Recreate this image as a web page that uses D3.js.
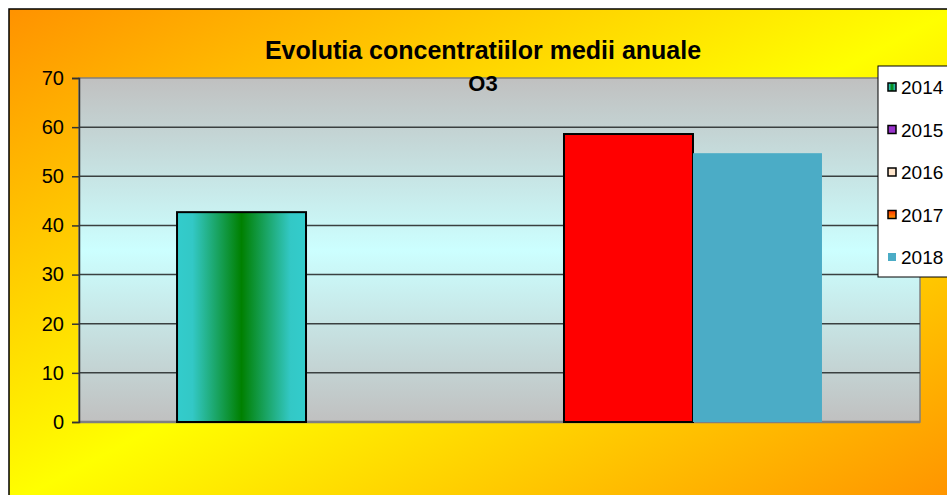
<!DOCTYPE html>
<html>
<head>
<meta charset="utf-8">
<script src="https://cdn.jsdelivr.net/npm/d3@7"></script>
<style>
  body { margin: 0; background: #fff; }
  text { font-family: "Liberation Sans", Arial, sans-serif; }
</style>
</head>
<body>
<svg id="chart"></svg>
<script>
// data
var categories = ["O3"];
var years = ["2014", "2015", "2016", "2017", "2018"];
var values = [42.7, null, null, 58.6, 54.7];
var yTicks = [0, 10, 20, 30, 40, 50, 60, 70];

var width = 947, height = 495;
var plot = {left: 79, right: 920, top: 78, bottom: 422};

var svg = d3.select("#chart")
      .attr("width", width)
      .attr("height", height);

var defs = svg.append("defs");

var bg = defs.append("linearGradient")
      .attr("id", "bg")
      .attr("x1", 0).attr("y1", 0).attr("x2", 1).attr("y2", 1);
bg.append("stop").attr("offset", 0).attr("stop-color", "#ff9200");
bg.append("stop").attr("offset", 0.5).attr("stop-color", "#ffff00");
bg.append("stop").attr("offset", 1).attr("stop-color", "#ff9200");

var pg = defs.append("linearGradient")
      .attr("id", "plotbg")
      .attr("x1", 0).attr("y1", 0).attr("x2", 0).attr("y2", 1);
pg.append("stop").attr("offset", 0).attr("stop-color", "#c0c0c0");
pg.append("stop").attr("offset", 0.5).attr("stop-color", "#ccffff");
pg.append("stop").attr("offset", 1).attr("stop-color", "#c0c0c0");

var gg = defs.append("linearGradient")
      .attr("id", "green")
      .attr("x1", 0).attr("y1", 0).attr("x2", 1).attr("y2", 0);
gg.append("stop").attr("offset", 0).attr("stop-color", "#33cccc");
gg.append("stop").attr("offset", 0.12).attr("stop-color", "#33c8c6");
gg.append("stop").attr("offset", 0.5).attr("stop-color", "#008000");
gg.append("stop").attr("offset", 0.88).attr("stop-color", "#33c8c6");
gg.append("stop").attr("offset", 1).attr("stop-color", "#33cccc");

var og = defs.append("linearGradient")
      .attr("id", "orange")
      .attr("x1", 0).attr("y1", 0).attr("x2", 0).attr("y2", 1);
og.append("stop").attr("offset", 0).attr("stop-color", "#ff3300");
og.append("stop").attr("offset", 1).attr("stop-color", "#ff9900");

var fills = ["url(#green)", "#9933cc", "#ffe6cc", "url(#orange)", "#4bacc6"];
var strokes = ["#000", "#000", "#000", "#000", "none"];
var barFills = ["url(#green)", "#9933cc", "#ffe6cc", "#ff0000", "#4bacc6"];

// outer background
svg.append("rect")
      .attr("x", 9).attr("y", 9)
      .attr("width", width).attr("height", height)
      .attr("fill", "url(#bg)")
      .attr("stroke", "#000")
      .attr("stroke-width", 1.5);

var x0 = d3.scaleBand()
      .domain(categories)
      .range([plot.left, plot.right]);

var x1 = d3.scaleBand()
      .domain(years)
      .range([0, x0.bandwidth()])
      .paddingOuter(0.76);

var y = d3.scaleLinear()
      .domain([0, 70])
      .range([plot.bottom, plot.top]);

// plot area
svg.append("rect")
      .attr("x", plot.left).attr("y", plot.top)
      .attr("width", plot.right - plot.left)
      .attr("height", plot.bottom - plot.top)
      .attr("fill", "url(#plotbg)")
      .attr("stroke", "#808080")
      .attr("stroke-width", 1.5);

svg.append("g")
      .selectAll("line")
      .data(yTicks.filter(function(d) { return d > 0 && d < 70; }))
      .enter()
      .append("line")
      .attr("x1", plot.left).attr("x2", plot.right)
      .attr("y1", function(d) { return y(d); })
      .attr("y2", function(d) { return y(d); })
      .attr("stroke", "#3a4040")
      .attr("stroke-width", 1.5);

svg.append("line")
      .attr("x1", plot.left).attr("x2", plot.right)
      .attr("y1", plot.bottom).attr("y2", plot.bottom)
      .attr("stroke", "#808080")
      .attr("stroke-width", 2.5);

// bars
svg.append("g")
      .selectAll("rect")
      .data(values.map(function(v, i) { return {year: years[i], value: v, i: i}; })
        .filter(function(d) { return d.value != null; }))
      .enter()
      .append("rect")
      .attr("x", function(d) { return x0(categories[0]) + x1(d.year); })
      .attr("y", function(d) { return y(d.value); })
      .attr("width", x1.bandwidth())
      .attr("height", function(d) { return y(0) - y(d.value); })
      .attr("fill", function(d) { return barFills[d.i]; })
      .attr("stroke", function(d) { return strokes[d.i]; })
      .attr("stroke-width", 2);

// y axis
var yAxis = d3.axisLeft(y)
      .tickValues(yTicks)
      .tickSize(7)
      .tickPadding(8);

var ax = svg.append("g")
      .attr("transform", "translate(" + plot.left + ",0)")
      .call(yAxis);
ax.select(".domain").attr("stroke", "#333").attr("stroke-width", 1.5);
ax.selectAll(".tick line").attr("stroke", "#333").attr("stroke-width", 1.5);
ax.selectAll(".tick text")
      .attr("font-size", "20px")
      .attr("font-family", "'Liberation Sans', Arial, sans-serif")
      .attr("fill", "#000");

// title
svg.append("text")
      .attr("x", 483).attr("y", 59)
      .attr("text-anchor", "middle")
      .attr("font-size", "25px")
      .attr("font-weight", "bold")
      .text("Evolutia concentratiilor medii anuale");
svg.append("text")
      .attr("x", 483).attr("y", 91)
      .attr("text-anchor", "middle")
      .attr("font-size", "22px")
      .attr("font-weight", "bold")
      .text("O3");

// legend
var legend = svg.append("g");
legend.append("rect")
      .attr("x", 878).attr("y", 66)
      .attr("width", 90).attr("height", 211)
      .attr("fill", "#fff")
      .attr("stroke", "#000")
      .attr("stroke-width", 1);

var ly = d3.scalePoint()
      .domain(years)
      .range([87, 257]);

var items = legend.selectAll("g.item")
      .data(years)
      .enter()
      .append("g")
      .attr("class", "item")
      .attr("transform", function(d) { return "translate(892," + ly(d) + ")"; });

items.append("rect")
      .attr("x", -4).attr("y", -4)
      .attr("width", 8).attr("height", 8)
      .attr("fill", function(d, i) { return fills[i]; })
      .attr("stroke", function(d, i) { return strokes[i]; })
      .attr("stroke-width", 1.5);

items.append("text")
      .attr("x", 9).attr("y", 7)
      .attr("font-size", "19px")
      .text(function(d) { return d; });
</script>
</body>
</html>
